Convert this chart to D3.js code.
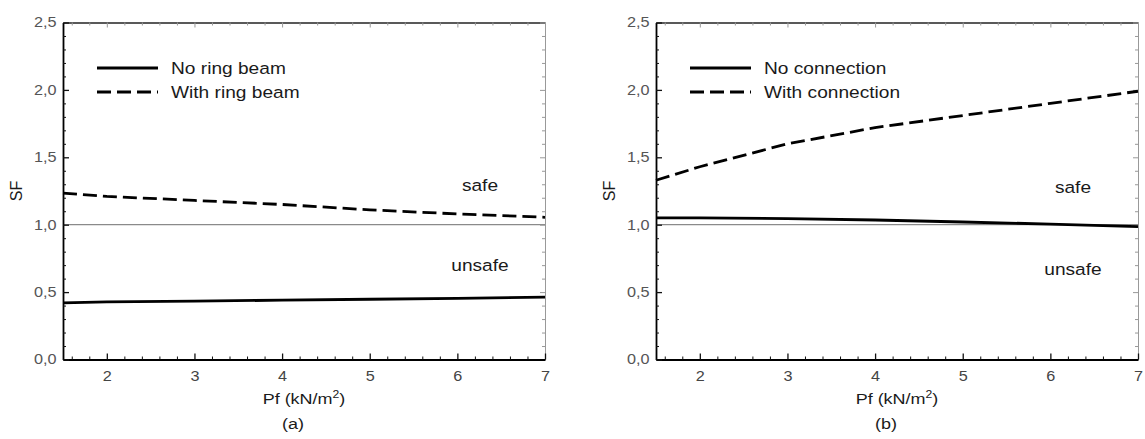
<!DOCTYPE html>
<html><head><meta charset="utf-8">
<script src="https://cdn.jsdelivr.net/npm/d3@7"></script>
<style>
body{margin:0;background:#fff}
text{font-family:Arial,"Liberation Sans",sans-serif}
.sx{transform-box:fill-box;transform-origin:center;transform:scaleX(1.16)}
</style>
</head><body>
<svg id="c" width="1145" height="439"></svg>
<script>
// ---- data ----
const pf = [1.5, 2, 3, 4, 5, 6, 7];
const noRingBeam = [0.42, 0.427, 0.433, 0.44, 0.447, 0.454, 0.462];
const withRingBeam = [1.234, 1.21, 1.18, 1.15, 1.11, 1.08, 1.055];
const noConnection = [1.05, 1.05, 1.045, 1.035, 1.02, 1.005, 0.985];
const withConnection = [1.33, 1.43, 1.60, 1.72, 1.81, 1.90, 1.99];
const xTicks = [2, 3, 4, 5, 6, 7];
const yTicks = [0, 0.5, 1.0, 1.5, 2.0, 2.5];
const safeLimit = 1.0;
const panelTags = ["(a)", "(b)"];
const legendNames = [["No ring beam", "With ring beam"], ["No connection", "With connection"]];
const seriesData = [[noRingBeam, withRingBeam], [noConnection, withConnection]];
const zoneLabels = ["safe", "unsafe"];

// ---- layout ----
const svg = d3.select("#c");
const W = 482, H = 337, TOP = 22.5;
const lefts = [63, 656];
const fmt = d3.formatLocale({decimal: ",", thousands: ".", grouping: [3], currency: ["", ""]}).format(".1f");

const xMinor = d3.range(16, 71, 2).map(v => v / 10).filter(v => !xTicks.includes(v));
const yMinor = d3.range(0, 26, 1).map(v => v / 10).filter(v => !yTicks.some(t => Math.abs(t - v) < 1e-9));

lefts.forEach((L, pi) => {
  const g = svg.append("g").attr("transform", `translate(${L},${TOP})`);
  const x = d3.scaleLinear().domain([1.5, 7]).range([0, W]);
  const y = d3.scaleLinear().domain([0, 2.5]).range([H, 0]);

  // reference line
  g.append("line").attr("x1", 0).attr("x2", W).attr("y1", y(safeLimit)).attr("y2", y(safeLimit))
    .attr("stroke", "#8a8a8a").attr("stroke-width", 1.2);

  // top axis (grey ticks)
  const topMinor = g.append("g").call(d3.axisTop(x).tickValues(xMinor).tickSize(-3).tickSizeOuter(0).tickFormat(""));
  const topMajor = g.append("g").call(d3.axisTop(x).tickValues(xTicks).tickSize(-5).tickSizeOuter(0).tickFormat(""));
  [topMinor, topMajor].forEach(a => { a.selectAll(".tick line").attr("stroke", "#999"); });
  topMinor.select(".domain").attr("stroke", "#222").attr("stroke-width", 1.3);
  topMajor.select(".domain").remove();

  // right axis (grey)
  const rMinor = g.append("g").attr("transform", `translate(${W},0)`).call(d3.axisRight(y).tickValues(yMinor).tickSize(-3).tickSizeOuter(0).tickFormat(""));
  const rMajor = g.append("g").attr("transform", `translate(${W},0)`).call(d3.axisRight(y).tickValues(yTicks).tickSize(-5).tickSizeOuter(0).tickFormat(""));
  [rMinor, rMajor].forEach(a => { a.selectAll(".tick line").attr("stroke", "#999"); });
  rMinor.select(".domain").attr("stroke", "#999").attr("stroke-width", 1);
  rMajor.select(".domain").remove();

  // bottom axis
  const bMinor = g.append("g").attr("transform", `translate(0,${H})`).call(d3.axisBottom(x).tickValues(xMinor).tickSize(-3).tickSizeOuter(0).tickFormat(""));
  const bMajor = g.append("g").attr("transform", `translate(0,${H})`).call(d3.axisBottom(x).tickValues(xTicks).tickSize(-6).tickSizeOuter(0).tickPadding(12).tickFormat(d3.format("d")));
  bMinor.selectAll(".tick line").attr("stroke", "#111");
  bMajor.selectAll(".tick line").attr("stroke", "#111").attr("stroke-width", 1.3);
  bMinor.select(".domain").attr("stroke", "#000").attr("stroke-width", 1.8);
  bMajor.select(".domain").remove();
  bMajor.selectAll("text").attr("font-size", 14).attr("fill", "#444").attr("class", "sx");

  // left axis
  const lMinor = g.append("g").call(d3.axisLeft(y).tickValues(yMinor).tickSize(-3).tickSizeOuter(0).tickFormat(""));
  const lMajor = g.append("g").call(d3.axisLeft(y).tickValues(yTicks).tickSize(-6).tickSizeOuter(0).tickPadding(8).tickFormat(fmt));
  lMinor.selectAll(".tick line").attr("stroke", "#111");
  lMajor.selectAll(".tick line").attr("stroke", "#111").attr("stroke-width", 1.3);
  lMinor.select(".domain").attr("stroke", "#000").attr("stroke-width", 1.8);
  lMajor.select(".domain").remove();
  lMajor.selectAll("text").attr("font-size", 14).attr("fill", "#555").attr("class", "sx");

  // series
  const line = d3.line().x((d, i) => x(pf[i])).y(d => y(d));
  const dashes = [null, "14,6"];
  seriesData[pi].forEach((vals, si) => {
    g.append("path").datum(vals).attr("d", line).attr("fill", "none")
      .attr("stroke", "#000").attr("stroke-width", 2.8)
      .attr("stroke-dasharray", dashes[si]);
  });

  // legend
  const legY = [68 - TOP, 92 - TOP];
  legendNames[pi].forEach((name, si) => {
    g.append("line").attr("x1", 34).attr("x2", 95).attr("y1", legY[si]).attr("y2", legY[si])
      .attr("stroke", "#000").attr("stroke-width", 2.8).attr("stroke-dasharray", dashes[si]);
    g.append("text").attr("x", 108).attr("y", legY[si]).attr("dy", "0.36em")
      .attr("font-size", 16.5).attr("fill", "#1a1a1a").attr("class", "sx").style("transform-origin", "left center")
      .text(name);
  });

  // zone labels
  const zoneY = pi === 0 ? [185 - TOP, 265 - TOP] : [187 - TOP, 269 - TOP];
  zoneLabels.forEach((lab, zi) => {
    g.append("text").attr("x", 417).attr("y", zoneY[zi]).attr("dy", "0.36em")
      .attr("text-anchor", "middle").attr("font-size", 16.5).attr("fill", "#1a1a1a").attr("class", "sx")
      .text(lab);
  });

  // axis titles
  const xt = g.append("text").attr("x", W / 2).attr("y", 404 - TOP).attr("text-anchor", "middle")
    .attr("font-size", 15.5).attr("fill", "#1a1a1a").attr("class", "sx");
  xt.append("tspan").text("Pf (kN/m");
  xt.append("tspan").attr("dy", -6).attr("font-size", 10.5).text("2");
  xt.append("tspan").attr("dy", 6).text(")");

  g.append("text").attr("x", W / 2 - 11).attr("y", 429 - TOP).attr("text-anchor", "middle")
    .attr("font-size", 15.5).attr("fill", "#1a1a1a").attr("class", "sx").text(panelTags[pi]);

  g.append("text").attr("transform", `translate(-47,${191 - TOP}) rotate(-90)`)
    .attr("x", 0).attr("y", 0).attr("text-anchor", "middle").attr("dy", "0.36em")
    .attr("font-size", 16).attr("fill", "#1a1a1a").text("SF");
});
</script>
</body></html>
